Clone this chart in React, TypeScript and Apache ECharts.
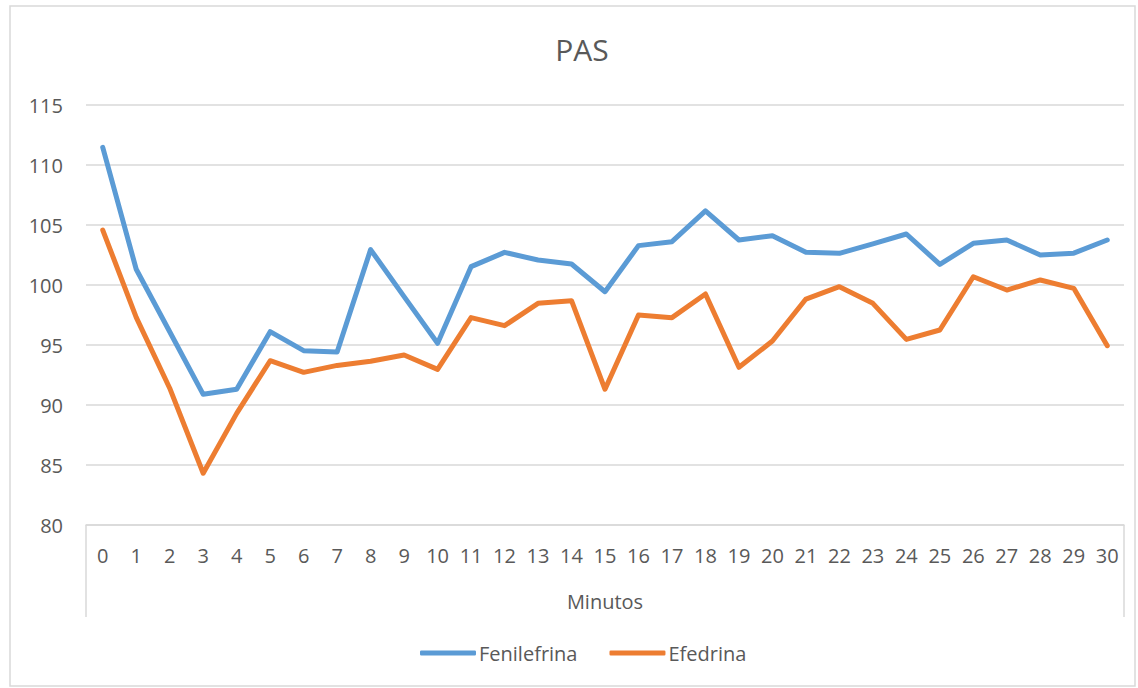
import React, { useEffect, useRef } from "react";
import * as echarts from "echarts";

const minutes = ["0","1","2","3","4","5","6","7","8","9","10","11","12","13","14","15","16","17","18","19","20","21","22","23","24","25","26","27","28","29","30"];
const fenilefrina = [111.47, 101.31, 96.1, 90.89, 91.31, 96.11, 94.53, 94.42, 102.95, 99.03, 95.14, 101.53, 102.72, 102.08, 101.75, 99.44, 103.28, 103.61, 106.17, 103.75, 104.11, 102.72, 102.64, 103.42, 104.25, 101.72, 103.47, 103.75, 102.5, 102.65, 103.75];
const efedrina = [104.58, 97.3, 91.4, 84.31, 89.3, 93.69, 92.72, 93.3, 93.65, 94.17, 92.97, 97.28, 96.61, 98.47, 98.69, 91.31, 97.5, 97.28, 99.25, 93.14, 95.33, 98.83, 99.86, 98.47, 95.47, 96.25, 100.69, 99.58, 100.42, 99.72, 94.94];
const yMin = 80;
const yMax = 115;
const yStep = 5;

const FONT = "'Open Sans', 'Noto Sans', sans-serif";
const TEXT = "#595959";
const GRID = "#d9d9d9";
const BLUE = "#5b9bd5";
const ORANGE = "#ed7d31";

export default function App() {
  const ref = useRef<HTMLDivElement>(null);
  useEffect(() => {
    if (!ref.current) return;
    const chart = echarts.init(ref.current, null, { renderer: "svg" });
    chart.setOption({
      animation: false,
      backgroundColor: "#ffffff",
      textStyle: { fontFamily: FONT, color: TEXT },
      title: {
        text: "PAS",
        left: 577,
        top: 29,
        textAlign: "center",
        textStyle: { fontFamily: FONT, fontSize: 30, fontWeight: "normal", color: TEXT },
      },
      legend: {
        left: 415,
        top: 638,
        itemWidth: 56,
        itemHeight: 5,
        itemGap: 32,
        icon: "roundRect",
        textStyle: { fontFamily: FONT, fontSize: 20, color: TEXT, padding: [0, 0, 0, -2] },
        data: ["Fenilefrina", "Efedrina"],
      },
      grid: { left: 86, right: 14, top: 105, bottom: 163, containLabel: false },
      xAxis: {
        type: "category",
        data: minutes,
        boundaryGap: true,
        name: "Minutos",
        nameLocation: "middle",
        nameGap: 66,
        nameTextStyle: { fontFamily: FONT, fontSize: 20, color: TEXT },
        axisLine: { lineStyle: { color: GRID, width: 1.5 } },
        axisTick: { show: false },
        axisLabel: { fontFamily: FONT, fontSize: 20, color: TEXT, margin: 20, interval: 0 },
      },
      yAxis: {
        type: "value",
        min: yMin,
        max: yMax,
        interval: yStep,
        axisLine: { show: false },
        axisTick: { show: false },
        axisLabel: { fontFamily: FONT, fontSize: 20, color: TEXT, margin: 23 },
        splitLine: { lineStyle: { color: GRID, width: 1.5 } },
      },
      series: [
        {
          name: "Fenilefrina",
          type: "line",
          data: fenilefrina,
          symbol: "none",
          color: BLUE,
          lineStyle: { width: 5, color: BLUE, cap: "round", join: "round" },
        },
        {
          name: "Efedrina",
          type: "line",
          data: efedrina,
          symbol: "none",
          color: ORANGE,
          lineStyle: { width: 5, color: ORANGE, cap: "round", join: "round" },
        },
      ],
      graphic: [
        {
          type: "rect",
          shape: { x: 10, y: 6, width: 1125, height: 680 },
          style: { fill: "none", stroke: GRID, lineWidth: 1.5 },
          silent: true,
        },
        {
          type: "line",
          shape: { x1: 86, y1: 525, x2: 86, y2: 617 },
          style: { stroke: GRID, lineWidth: 1.5 },
          silent: true,
        },
        {
          type: "line",
          shape: { x1: 1124, y1: 525, x2: 1124, y2: 617 },
          style: { stroke: GRID, lineWidth: 1.5 },
          silent: true,
        },
      ],
    });
    return () => chart.dispose();
  }, []);
  return (
    <div
      ref={ref}
      style={{ position: "absolute", left: 0, top: 0, width: 1138, height: 688 }}
    />
  );
}
